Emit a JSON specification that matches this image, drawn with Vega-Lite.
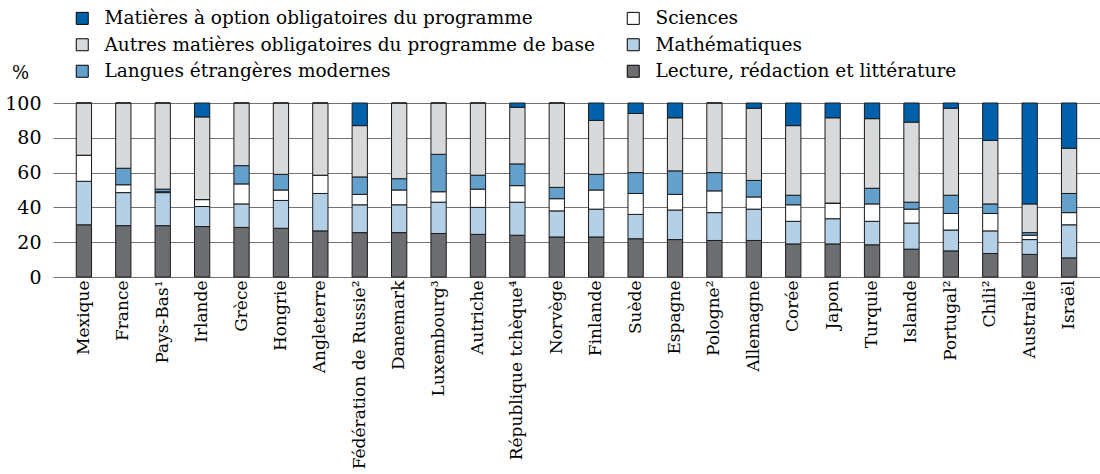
{
  "$schema": "https://vega.github.io/schema/vega-lite/v6.json",
  "width": 1047,
  "height": 174,
  "autosize": {"type": "none"},
  "padding": {"left": 53, "top": 103, "right": 0, "bottom": 197},
  "background": "white",
  "datasets": {
    "pays": [
      {"pays": "Mexique", "L": 30, "M": 25, "S": 15, "Lg": 0, "A": 30, "O": 0},
      {"pays": "France", "L": 29.5, "M": 19, "S": 4.5, "Lg": 9.5, "A": 37.5, "O": 0},
      {"pays": "Pays-Bas¹", "L": 29.5, "M": 19, "S": 0.5, "Lg": 1.5, "A": 49.5, "O": 0},
      {"pays": "Irlande", "L": 29, "M": 11.5, "S": 4, "Lg": 0, "A": 47.5, "O": 8},
      {"pays": "Grèce", "L": 28.5, "M": 13.5, "S": 11.5, "Lg": 10.5, "A": 36, "O": 0},
      {"pays": "Hongrie", "L": 28, "M": 16, "S": 6, "Lg": 9, "A": 41, "O": 0},
      {"pays": "Angleterre", "L": 26.5, "M": 21.5, "S": 10.5, "Lg": 0, "A": 41.5, "O": 0},
      {"pays": "Fédération de Russie²", "L": 25.5, "M": 16, "S": 6, "Lg": 10, "A": 29.5, "O": 13},
      {"pays": "Danemark", "L": 25.5, "M": 16, "S": 8.5, "Lg": 6.5, "A": 43.5, "O": 0},
      {"pays": "Luxembourg³", "L": 25, "M": 18, "S": 6, "Lg": 21.5, "A": 29.5, "O": 0},
      {"pays": "Autriche", "L": 24.5, "M": 15.5, "S": 10.5, "Lg": 8, "A": 41.5, "O": 0},
      {"pays": "République tchèque⁴", "L": 24, "M": 19, "S": 9.5, "Lg": 12.5, "A": 32.5, "O": 2.5},
      {"pays": "Norvège", "L": 23, "M": 15, "S": 7, "Lg": 6.5, "A": 48.5, "O": 0},
      {"pays": "Finlande", "L": 23, "M": 16, "S": 11, "Lg": 9, "A": 31, "O": 10},
      {"pays": "Suède", "L": 22, "M": 14, "S": 12, "Lg": 12, "A": 34, "O": 6},
      {"pays": "Espagne", "L": 21.5, "M": 17, "S": 9, "Lg": 13.5, "A": 30.5, "O": 8.5},
      {"pays": "Pologne²", "L": 21, "M": 16, "S": 12.5, "Lg": 10.5, "A": 40, "O": 0},
      {"pays": "Allemagne", "L": 21, "M": 18, "S": 7, "Lg": 9.5, "A": 41.5, "O": 3},
      {"pays": "Corée", "L": 19, "M": 13, "S": 9.5, "Lg": 5.5, "A": 40, "O": 13},
      {"pays": "Japon", "L": 19, "M": 14.5, "S": 9, "Lg": 0, "A": 49, "O": 8.5},
      {"pays": "Turquie", "L": 18.5, "M": 13.5, "S": 10, "Lg": 9, "A": 40, "O": 9},
      {"pays": "Islande", "L": 16, "M": 15, "S": 8, "Lg": 4, "A": 46, "O": 11},
      {"pays": "Portugal²", "L": 15, "M": 12, "S": 9.5, "Lg": 10.5, "A": 50, "O": 3},
      {"pays": "Chili²", "L": 13.5, "M": 13, "S": 10, "Lg": 5.5, "A": 36.5, "O": 21.5},
      {"pays": "Australie", "L": 13, "M": 8.5, "S": 2.5, "Lg": 1.5, "A": 16.5, "O": 58},
      {"pays": "Israël", "L": 11, "M": 19, "S": 7, "Lg": 11, "A": 26, "O": 26}
    ],
    "matieres": [
      {"code": "L", "matiere": "Lecture, rédaction et littérature", "ordre": 1},
      {"code": "M", "matiere": "Mathématiques", "ordre": 2},
      {"code": "S", "matiere": "Sciences", "ordre": 3},
      {"code": "Lg", "matiere": "Langues étrangères modernes", "ordre": 4},
      {"code": "A", "matiere": "Autres matières obligatoires du programme de base", "ordre": 5},
      {"code": "O", "matiere": "Matières à option obligatoires du programme", "ordre": 6}
    ]
  },
  "data": {"name": "pays"},
  "transform": [
    {"fold": ["L", "M", "S", "Lg", "A", "O"], "as": ["code", "valeur"]},
    {"lookup": "code", "from": {"data": {"name": "matieres"}, "key": "code", "fields": ["matiere", "ordre"]}}
  ],
  "mark": {"type": "bar", "stroke": "#1a1a1a", "strokeWidth": 1},
  "encoding": {
    "x": {
      "field": "pays",
      "type": "nominal",
      "sort": null,
      "scale": {"paddingInner": 0.612, "paddingOuter": 0.59},
      "axis": {
        "title": null,
        "labelAngle": -90,
        "labelAlign": "right",
        "labelBaseline": "middle",
        "labelFontSize": 17,
        "labelPadding": 3,
        "labelLimit": 400,
        "labelColor": "#000",
        "domain": false,
        "ticks": false
      }
    },
    "y": {
      "field": "valeur",
      "type": "quantitative",
      "stack": "zero",
      "scale": {"domain": [0, 100], "nice": false},
      "axis": {
        "title": "%",
        "titleAngle": 0,
        "titleX": -33,
        "titleY": -30,
        "titleAlign": "center",
        "titleBaseline": "middle",
        "titleFontWeight": "normal",
        "titleFontSize": 18,
        "titleColor": "#000",
        "values": [0, 20, 40, 60, 80, 100],
        "domain": false,
        "ticks": false,
        "labelPadding": 12,
        "labelFontSize": 19,
        "labelColor": "#000",
        "gridColor": "#737373",
        "gridWidth": 1,
        "gridOpacity": 1
      }
    },
    "color": {
      "field": "matiere",
      "type": "nominal",
      "scale": {
        "domain": [
          "Matières à option obligatoires du programme",
          "Autres matières obligatoires du programme de base",
          "Langues étrangères modernes",
          "Sciences",
          "Mathématiques",
          "Lecture, rédaction et littérature"
        ],
        "range": ["#0060A9", "#D8D9DB", "#64A0CC", "#FFFFFF", "#B3D0E6", "#6D6E71"]
      },
      "legend": {
        "title": null,
        "orient": "none",
        "legendX": 20,
        "legendY": -94,
        "columns": 2,
        "columnPadding": 29,
        "rowPadding": 7.5,
        "padding": 0,
        "symbolType": "square",
        "symbolSize": 144,
        "symbolStrokeColor": "#000",
        "symbolStrokeWidth": 1,
        "symbolOpacity": 1,
        "labelFontSize": 18.5,
        "labelOffset": 13,
        "labelLimit": 600,
        "labelColor": "#000"
      }
    },
    "order": {"field": "ordre", "type": "quantitative", "sort": "ascending"}
  },
  "config": {
    "font": "DejaVu Serif",
    "view": {"stroke": null}
  }
}
